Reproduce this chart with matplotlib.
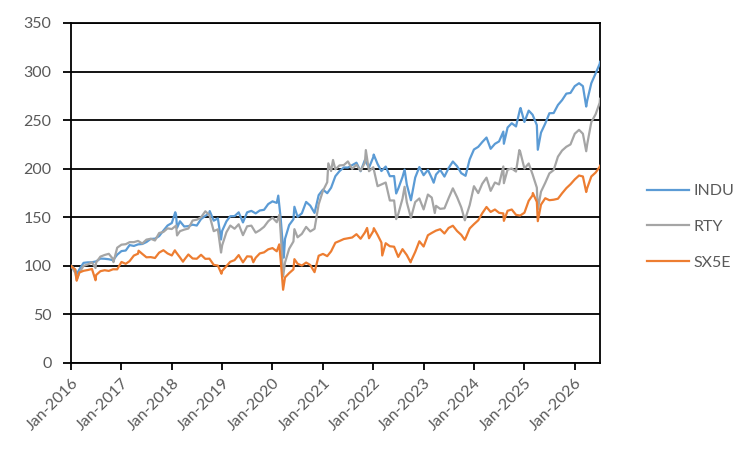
import matplotlib
matplotlib.use("Agg")
import matplotlib.pyplot as plt
import matplotlib.dates as mdates
import pandas as pd
import numpy as np

# ---- data (index levels, Jan-2016 = 100), month-start values ----
start_month = "2016-01-01"
n_months = 127

indu_monthly = [
    100.0, 96.0, 96.3, 103.1, 103.6, 103.7, 104.6, 107.5, 107.3, 106.8, 105.8, 111.5,
    115.2, 115.8, 121.4, 120.5, 122.1, 122.5, 124.5, 127.7, 128.0, 130.6, 136.3, 141.5,
    144.1, 152.5, 145.9, 140.5, 140.9, 142.4, 141.5, 148.2, 151.4, 154.3, 146.5, 148.9,
    136.0, 145.8, 151.1, 151.2, 155.1, 144.7, 155.1, 156.6, 154.0, 157.0, 157.7, 163.6,
    166.4, 164.8, 148.2, 127.8, 142.0, 148.0, 150.5, 154.1, 165.8, 162.0, 154.5, 172.8,
    178.5, 174.8, 180.4, 192.3, 197.5, 201.3, 201.2, 203.7, 206.2, 197.4, 208.9, 201.1,
    211.9, 204.9, 197.6, 202.2, 192.3, 192.4, 179.5, 191.5, 183.7, 167.5, 190.9, 201.7,
    193.3, 198.8, 190.4, 194.0, 198.8, 191.9, 200.6, 207.4, 202.5, 195.4, 192.7, 209.6,
    219.8, 222.5, 227.4, 232.1, 220.5, 225.6, 228.1, 238.2, 242.4, 246.8, 243.5, 261.9,
    248.1, 259.8, 255.6, 244.9, 237.1, 246.5, 257.1, 257.3, 265.6, 270.6, 277.3, 278.0,
    285.0, 288.0, 285.0, 270.0, 288.0, 298.0, 308.0,
]
indu_event_dates = ["2016-02-11", "2018-01-26", "2018-02-08", "2018-10-03", "2018-12-24",
                    "2020-02-12", "2020-03-23", "2020-06-08", "2022-01-04", "2022-06-16",
                    "2022-08-16", "2023-03-15", "2024-08-05", "2024-12-04", "2025-04-08",
                    "2026-03-25", "2026-07-03"]
indu_event_values = [91.3, 155.2, 139.1, 156.4, 127.1,
                     172.3, 108.4, 160.8, 214.6, 174.5,
                     199.1, 185.6, 225.7, 262.5, 219.5,
                     264.0, 310.0]

rty_monthly = [
    100.0, 92.9, 92.8, 100.0, 101.4, 103.6, 103.4, 109.5, 111.2, 112.4, 107.0, 118.7,
    121.8, 122.3, 124.4, 124.4, 125.7, 123.0, 127.0, 127.9, 126.1, 133.8, 134.9, 138.6,
    137.9, 141.4, 135.7, 137.3, 138.4, 146.7, 147.5, 150.0, 156.2, 152.3, 135.7, 137.6,
    121.1, 134.6, 141.5, 138.2, 142.8, 131.6, 140.7, 141.4, 134.2, 136.7, 140.2, 145.9,
    149.7, 144.9, 132.5, 103.5, 117.6, 125.1, 129.4, 132.9, 140.1, 135.4, 138.1, 163.4,
    177.3, 186.1, 197.6, 199.4, 203.4, 203.7, 207.5, 199.8, 204.1, 197.8, 206.2, 197.4,
    201.5, 182.0, 183.8, 185.8, 167.3, 167.3, 153.3, 169.2, 165.5, 149.4, 165.7, 169.4,
    158.1, 173.4, 170.3, 161.8, 158.7, 159.2, 169.6, 179.8, 170.6, 160.2, 149.2, 162.5,
    182.0, 174.9, 184.5, 190.8, 177.2, 185.8, 183.8, 202.3, 199.1, 200.2, 197.1, 217.7,
    200.2, 205.4, 194.2, 180.5, 176.3, 185.5, 195.2, 198.6, 212.4, 218.7, 222.6, 225.0,
    236.0, 240.0, 236.0, 225.0, 248.0, 256.0, 268.0,
]
rty_event_dates = ["2016-02-11", "2016-06-27", "2016-11-04", "2018-02-08", "2018-12-24",
                   "2020-02-20", "2020-03-18", "2020-06-08", "2021-02-09", "2021-03-15",
                   "2021-11-08", "2022-06-16", "2022-08-16", "2023-03-23", "2023-10-27",
                   "2024-08-05", "2024-11-25", "2025-04-08", "2026-03-25", "2026-07-03"]
rty_event_values = [85.6, 97.8, 103.8, 131.3, 113.7,
                    152.6, 89.0, 137.8, 205.5, 209.0,
                    219.2, 148.1, 181.4, 154.4, 146.9,
                    185.1, 219.2, 158.0, 218.0, 272.0]

sx5e_monthly = [
    100.0, 96.2, 93.1, 94.9, 95.7, 96.8, 90.5, 94.5, 95.5, 94.8, 96.5, 96.4,
    104.0, 102.1, 104.9, 110.6, 112.5, 112.3, 108.8, 109.0, 108.1, 113.6, 116.1, 112.8,
    110.7, 114.0, 108.7, 106.2, 111.7, 107.6, 107.3, 111.4, 107.2, 107.4, 101.0, 100.3,
    94.8, 99.8, 104.2, 105.9, 111.1, 103.6, 109.8, 109.5, 108.3, 112.8, 113.9, 117.0,
    118.3, 115.0, 105.2, 88.1, 92.5, 96.4, 102.2, 100.3, 103.4, 100.9, 93.5, 110.4,
    112.3, 110.0, 114.9, 123.8, 125.6, 127.6, 128.4, 129.2, 132.6, 127.9, 134.3, 128.4,
    135.8, 131.9, 124.0, 123.3, 120.2, 119.7, 109.2, 117.2, 111.1, 104.8, 114.3, 125.3,
    119.9, 131.5, 133.9, 136.3, 137.7, 133.3, 139.0, 141.3, 135.8, 131.9, 128.3, 138.5,
    142.9, 146.9, 154.1, 160.6, 155.5, 158.0, 154.6, 154.0, 156.7, 158.0, 152.5, 151.8,
    154.7, 167.0, 172.6, 165.8, 163.0, 169.6, 167.6, 168.1, 169.1, 174.7, 180.0, 184.0,
    189.0, 193.0, 192.0, 180.0, 192.0, 196.0, 202.0,
]
sx5e_event_dates = ["2016-02-11", "2016-06-27", "2017-05-05", "2018-01-23", "2018-03-23",
                    "2018-12-27", "2019-08-15", "2020-02-19", "2020-03-18", "2020-06-08",
                    "2021-11-17", "2022-01-05", "2022-03-07", "2022-09-29", "2023-10-26",
                    "2024-08-05", "2025-03-03", "2025-04-08", "2026-03-25", "2026-07-03"]
sx5e_event_values = [84.7, 85.2, 115.6, 116.0, 104.3,
                     91.9, 103.7, 122.1, 75.4, 106.9,
                     139.0, 138.8, 110.7, 103.6, 126.8,
                     146.3, 175.0, 146.0, 176.0, 203.0]

series_names = ["INDU", "RTY", "SX5E"]
series_colors = ["#5B9BD5", "#A5A5A5", "#ED7D31"]
y_ticks = [0, 50, 100, 150, 200, 250, 300, 350]
x_tick_years = list(range(2016, 2027))

months = pd.date_range(start_month, periods=n_months, freq="MS")


def build(monthly, ev_dates, ev_vals):
    s1 = pd.Series(monthly, index=months)
    s2 = pd.Series(ev_vals, index=pd.to_datetime(ev_dates))
    s = pd.concat([s1, s2]).sort_index()
    return s


series = [build(indu_monthly, indu_event_dates, indu_event_values),
          build(rty_monthly, rty_event_dates, rty_event_values),
          build(sx5e_monthly, sx5e_event_dates, sx5e_event_values)]

plt.rcParams["font.family"] = ["Lato", "DejaVu Sans"]

fig = plt.figure(figsize=(7.55, 4.53), dpi=100)
ax = fig.add_axes([71 / 755, 90 / 453, 529 / 755, 340 / 453])

for s, name, col in zip(series, series_names, series_colors):
    ax.plot(s.index, s.values, color=col, lw=1.6, label=name, zorder=3)

ax.set_ylim(0, 350)
ax.set_yticks(y_ticks)
ax.set_xlim(pd.Timestamp("2016-01-01"), pd.Timestamp("2026-07-03"))
ax.set_xticks([pd.Timestamp(f"{y}-01-01") for y in x_tick_years])
ax.xaxis.set_major_formatter(mdates.DateFormatter("%b-%Y"))

ax.yaxis.grid(True, color="black", lw=1.3)
ax.set_axisbelow(True)
for sp in ["left", "bottom", "right", "top"]:
    ax.spines[sp].set_color("black")
    ax.spines[sp].set_linewidth(1.3)

ax.tick_params(axis="y", direction="out", length=6, width=1.3, color="black",
               labelcolor="#595959", labelsize=11.5, pad=8)
ax.tick_params(axis="x", direction="out", length=5, width=1.3, color="black",
               labelcolor="#595959", labelsize=11.5, pad=4)
for lab in ax.get_xticklabels():
    lab.set_rotation(45)
    lab.set_ha("right")
    lab.set_rotation_mode("anchor")

leg = ax.legend(loc="upper left", bbox_to_anchor=(647 / 755, 1 - 184 / 453),
                bbox_transform=fig.transFigure, frameon=False, fontsize=11.5,
                handlelength=2.6, handletextpad=0.3, labelspacing=1.35,
                borderaxespad=0, borderpad=0, labelcolor="#595959")

fig.savefig("out.png", dpi=100)
